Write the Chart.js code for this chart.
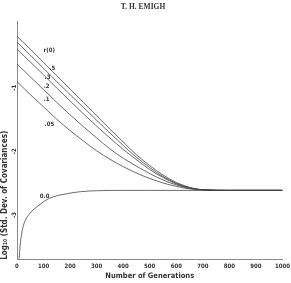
<!DOCTYPE html>
<html>
<head>
<meta charset="utf-8">
<script src="https://cdn.jsdelivr.net/npm/chart.js@4"></script>
<style>
  html, body { margin: 0; padding: 0; background: #fff; }
  #wrap { width: 291px; height: 283px; }
</style>
</head>
<body>
<div id="wrap"><canvas id="chart" width="291" height="283"></canvas></div>
<script>
// generations
const gens = [0, 50, 100, 150, 200, 250, 300, 350, 400, 450, 500, 550, 600, 650, 700, 800, 900, 1000];

// log10 std. dev. for each r(0)
const r05 = [-0.24, -0.442, -0.651, -0.86, -1.07, -1.279, -1.488, -1.698, -1.899, -2.101, -2.271, -2.419, -2.535, -2.612, -2.651, -2.66, -2.66, -2.66];
const r03 = [-0.333, -0.535, -0.744, -0.953, -1.155, -1.357, -1.558, -1.76, -1.953, -2.14, -2.302, -2.442, -2.55, -2.62, -2.651, -2.66, -2.66, -2.66];
const r02 = [-0.442, -0.643, -0.845, -1.054, -1.256, -1.457, -1.651, -1.837, -2.016, -2.178, -2.333, -2.457, -2.558, -2.62, -2.651, -2.66, -2.66, -2.66];
const r01 = [-0.674, -0.876, -1.078, -1.279, -1.473, -1.659, -1.837, -2.008, -2.155, -2.279, -2.395, -2.496, -2.574, -2.628, -2.651, -2.66, -2.66, -2.66];
const r005 = [-0.953, -1.155, -1.349, -1.543, -1.721, -1.884, -2.039, -2.171, -2.287, -2.388, -2.473, -2.543, -2.597, -2.636, -2.651, -2.66, -2.66, -2.66];

// r(0) = 0.0 rises from the bottom
const zeroGens = [8, 12, 18, 25, 35, 49, 65, 87, 110, 137, 165, 190, 240, 300, 400, 500, 600, 700, 800, 900, 1000];
const r00 = [-3.73, -3.52, -3.33, -3.2, -3.1, -3.02, -2.95, -2.88, -2.81, -2.76, -2.73, -2.71, -2.68, -2.665, -2.66, -2.66, -2.66, -2.66, -2.66, -2.66, -2.66];

const yTicks = [-1, -2, -3];

// curve labels
const labelTexts = ['r(0)', '.5', '.3', '.2', '.1', '.05', '0.0'];
const labelGens = [100, 122, 104, 101, 101, 104, 86];
const labelVals = [-0.46, -0.74, -0.88, -1.03, -1.23, -1.62, -2.75];

const FONT = "'DejaVu Sans Condensed', 'Liberation Sans Narrow', 'DejaVu Sans', sans-serif";
const LINE = '#444';

function pts(xs, ys) {
  return xs.map((x, i) => ({ x: x, y: ys[i] }));
}

function series(xs, ys) {
  return {
    data: pts(xs, ys),
    borderColor: LINE,
    borderWidth: 0.8,
    pointRadius: 0,
    fill: false,
    cubicInterpolationMode: 'monotone'
  };
}

const curveLabels = {
  id: 'curveLabels',
  afterDatasetsDraw(chart) {
    const ctx = chart.ctx;
    const xs = chart.scales.x, ys = chart.scales.y;
    ctx.save();
    ctx.fillStyle = '#333';
    ctx.font = 'bold 6px ' + FONT;
    ctx.textAlign = 'left';
    ctx.textBaseline = 'middle';
    labelTexts.forEach((t, i) => {
      ctx.fillText(t, xs.getPixelForValue(labelGens[i]), ys.getPixelForValue(labelVals[i]));
    });
    ctx.restore();
  }
};

new Chart(document.getElementById('chart'), {
  type: 'line',
  data: {
    datasets: [
      series(gens, r05),
      series(gens, r03),
      series(gens, r02),
      series(gens, r01),
      series(gens, r005),
      series(zeroGens, r00)
    ]
  },
  options: {
    responsive: false,
    animation: false,
    layout: { padding: { left: 0, right: 5, top: 0, bottom: 0 } },
    plugins: {
      legend: { display: false },
      tooltip: { enabled: false },
      title: {
        display: true,
        text: 'T. H. EMIGH',
        color: '#333',
        font: { family: "'Liberation Serif', serif", size: 7.5, weight: 'bold' },
        padding: { top: 3, bottom: 9 }
      }
    },
    scales: {
      x: {
        type: 'linear',
        min: 0,
        max: 1000,
        grid: { display: false, drawTicks: true, tickLength: 2 },
        border: { color: '#888', width: 1 },
        ticks: {
          stepSize: 100,
          color: '#333',
          padding: 1,
          maxRotation: 0,
          font: { family: FONT, size: 6, weight: 'bold' },
          callback: v => String(v)
        },
        title: {
          display: true,
          text: 'Number of Generations',
          color: '#333',
          padding: { top: 1, bottom: 2 },
          font: { family: FONT, size: 7.5, weight: 'bold' }
        }
      },
      y: {
        type: 'linear',
        min: -3.75,
        max: 0,
        afterBuildTicks(scale) {
          scale.ticks = yTicks.map(v => ({ value: v }));
        },
        afterFit(scale) {
          scale.width = 17;
        },
        grid: { display: false, drawTicks: true, tickLength: 2 },
        border: { color: '#888', width: 1 },
        ticks: {
          color: '#333',
          padding: 1,
          minRotation: 90,
          maxRotation: 90,
          font: { family: FONT, size: 6, weight: 'bold' }
        },
        title: {
          display: true,
          align: 'start',
          text: 'Log\u2081\u2080 (Std. Dev. of Covariances)',
          color: '#333',
          padding: 0,
          font: { family: FONT, size: 8, weight: 'bold' }
        }
      }
    }
  },
  plugins: [curveLabels]
});
</script>
</body>
</html>
